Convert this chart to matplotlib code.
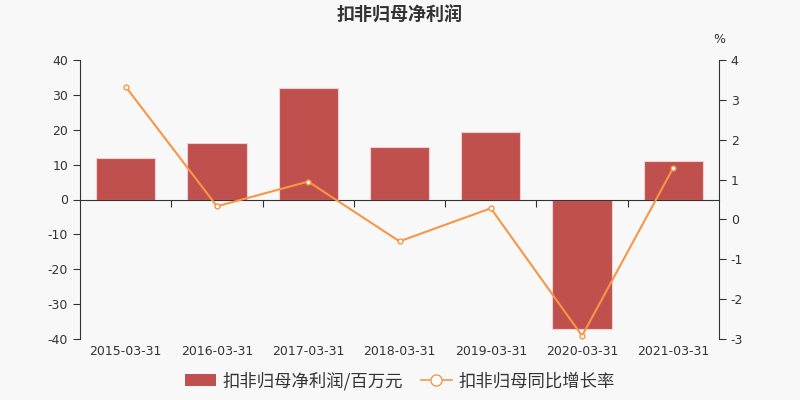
import matplotlib.pyplot as plt
import numpy as np
from matplotlib.patches import Patch
from matplotlib.lines import Line2D

plt.rcParams['font.family'] = ['Noto Sans CJK SC', 'DejaVu Sans']
plt.rcParams['axes.unicode_minus'] = False

dates = ['2015-03-31', '2016-03-31', '2017-03-31', '2018-03-31',
         '2019-03-31', '2020-03-31', '2021-03-31']
profit = [12.0, 16.1, 31.9, 15.0, 19.3, -37.0, 11.0]       # 百万元
growth = [3.33, 0.33, 0.95, -0.55, 0.28, -2.92, 1.30]      # %

BAR_COLOR = '#c0504d'
LINE_COLOR = '#f79646'
TEXT = '#333333'
BG = '#f8f8f8'
TICK_FONT = 'DejaVu Sans'

fig = plt.figure(figsize=(8, 4), dpi=100, facecolor=BG)
ax = fig.add_axes([0.1, 0.1525, 0.79875, 0.6975], facecolor=BG)
x = np.arange(len(dates))

ax.bar(x, profit, width=0.65, color=BAR_COLOR, edgecolor='#f0d0d0', linewidth=0.8, zorder=2)
ax.set_xlim(-0.5, len(dates) - 0.5)
ax.set_ylim(-40, 40)
ax.set_yticks(np.arange(-40, 41, 10))

# zero line with boundary ticks
ax.spines['bottom'].set_position(('data', 0))
ax.spines['top'].set_visible(False)
ax.spines['right'].set_visible(False)
for s in ['bottom', 'left']:
    ax.spines[s].set_color(TEXT)
ax.set_xticks(np.arange(0.5, len(dates) - 0.5, 1))
ax.tick_params(axis='x', length=5, color=TEXT, labelbottom=False)
ax.tick_params(axis='y', length=5, color=TEXT, labelcolor=TEXT, labelsize=9)

sec = ax.secondary_xaxis('bottom')
sec.spines['bottom'].set_visible(False)
sec.set_xticks(x, dates)
sec.tick_params(length=0, labelcolor=TEXT, labelsize=9, pad=4)

ax2 = ax.twinx()
ax2.plot(x, growth, color=LINE_COLOR, linewidth=1.5, marker='o', markersize=3.5,
         markerfacecolor='white', markeredgecolor=LINE_COLOR, markeredgewidth=1, zorder=3)
ax2.set_ylim(-3, 4)
ax2.set_yticks(np.arange(-3, 5, 1))
for s in ['top', 'bottom', 'left']:
    ax2.spines[s].set_visible(False)
ax2.spines['right'].set_color(TEXT)
ax2.tick_params(axis='y', length=5, color=TEXT, labelcolor=TEXT, labelsize=9)
ax2.text(1.0, 1.05, '%', transform=ax2.transAxes, ha='center', va='bottom', color=TEXT,
         fontsize=9, family=TICK_FONT)

for lab in ax.get_yticklabels() + ax2.get_yticklabels() + sec.get_xticklabels():
    lab.set_family(TICK_FONT)

fig.suptitle('扣非归母净利润', y=0.985, fontsize=13, fontweight='bold', color=TEXT)

handles = [Patch(facecolor=BAR_COLOR, edgecolor='none', label='扣非归母净利润/百万元'),
           Line2D([], [], color=LINE_COLOR, marker='o', markersize=8, markerfacecolor='white',
                  markeredgecolor=LINE_COLOR, linewidth=1.2, label='扣非归母同比增长率')]
fig.legend(handles=handles, loc='lower center', bbox_to_anchor=(0.5, -0.015), ncol=2,
           frameon=False, fontsize=12.5, handlelength=1.8, columnspacing=1.0, handletextpad=0.4,
           labelcolor=TEXT)

fig.savefig('out.png', dpi=100, facecolor=BG)
